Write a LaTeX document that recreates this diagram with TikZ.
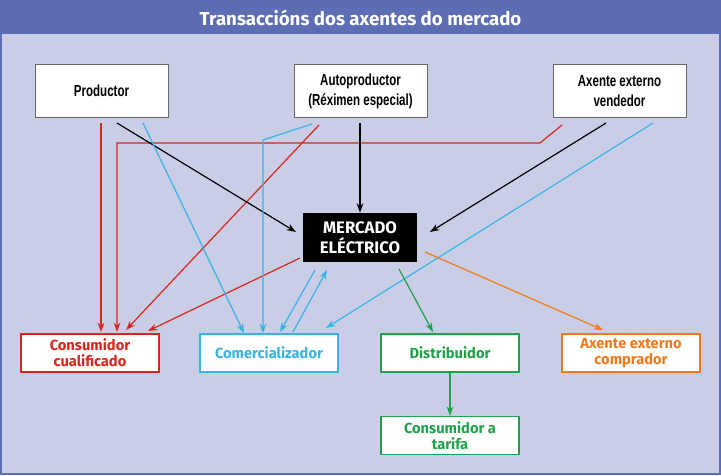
\documentclass[tikz,border=0pt]{standalone}
\usepackage{fontspec}
\setmainfont{Fira Sans}
\newfontfamily\condfont[FakeStretch=0.72]{Liberation Sans}
\usetikzlibrary{arrows.meta}
\definecolor{fondo}{HTML}{C9CDE6}
\definecolor{barra}{HTML}{5C6DB3}
\definecolor{vermello}{HTML}{DA251D}
\definecolor{ceo}{HTML}{37B3E6}
\definecolor{verde}{HTML}{1FA34A}
\definecolor{laranxa}{HTML}{F07A1A}
\tikzset{
  axente/.style={draw=black!60, fill=white, minimum width=100pt, minimum height=40pt, inner sep=0, align=center, font=\condfont\bfseries\fontsize{12}{15}\selectfont},
  destino/.style={draw=#1, fill=white, text=#1, line width=1pt, minimum width=103.5pt, minimum height=28.5pt, inner sep=0, align=center, font=\bfseries\fontsize{11}{12}\selectfont},
  frecha/.style={draw=#1, line width=0.9pt, -{Stealth[length=7pt,width=5pt]}}
}
\begin{document}
\begin{tikzpicture}[x=0.75pt, y=-0.75pt]
  \useasboundingbox (0,0) rectangle (721,475);
  \fill[fondo] (0,0) rectangle (721,475);
  \draw[barra, line width=2pt] (1,1) rectangle (720,474);
  \fill[barra] (0,0) rectangle (721,34);
  \node (titulo) [text=white, font=\bfseries\fontsize{14}{16}\selectfont] at (360.5,18) {Transaccións dos axentes do mercado};

  \node (prod) [axente] at (101.5,91) {Productor};
  \node (autop) [axente] at (360.5,91) {Autoproductor\\(Réximen especial)};
  \node (extv) [axente] at (619.5,91) {Axente externo\\vendedor};
  \node (merc) [fill=black, text=white, minimum width=85pt, minimum height=37pt, inner sep=0, align=center, font=\bfseries\fontsize{12.5}{15}\selectfont] at (360,237.5) {MERCADO\\ELÉCTRICO};

  \node (cons) [destino=vermello] at (90,353) {Consumidor\\cualificado};
  \node (com) [destino=ceo] at (269,353) {Comercializador};
  \node (dist) [destino=verde] at (450,353) {Distribuidor};
  \node (extc) [destino=laranxa] at (631,353) {Axente externo\\comprador};
  \node (tarifa) [destino=verde] at (450,435.5) {Consumidor a\\tarifa};

  % vermello
  \draw[frecha=vermello] (101,123) -- (101,332);
  \draw[frecha=vermello] (562,125) -- (540,143) -- (117,143) -- (117,332);
  \draw[frecha=vermello] (319,125) -- (126,330);
  \draw[frecha=vermello] (300,258) -- (148,331);
  % negro
  \draw[frecha=black] (117,123) -- (296,232);
  \draw[frecha=black] (360,123) -- (merc.north);
  \draw[frecha=black] (606,123) -- (430,232);
  % ceo
  \draw[frecha=ceo] (143,123) -- (244,333);
  \draw[frecha=ceo] (312,124) -- (263,140) -- (263,333);
  \draw[frecha=ceo] (315,270) -- (280,332);
  \draw[frecha=ceo] (293,332) -- (327,270);
  \draw[frecha=ceo] (653,123) -- (326,328);
  % verde e laranxa
  \draw[frecha=verde] (399,269) -- (433,332);
  \draw[frecha=verde] (dist.south) -- (tarifa.north);
  \draw[frecha=laranxa] (425,252) -- (603,330);
\end{tikzpicture}
\end{document}
